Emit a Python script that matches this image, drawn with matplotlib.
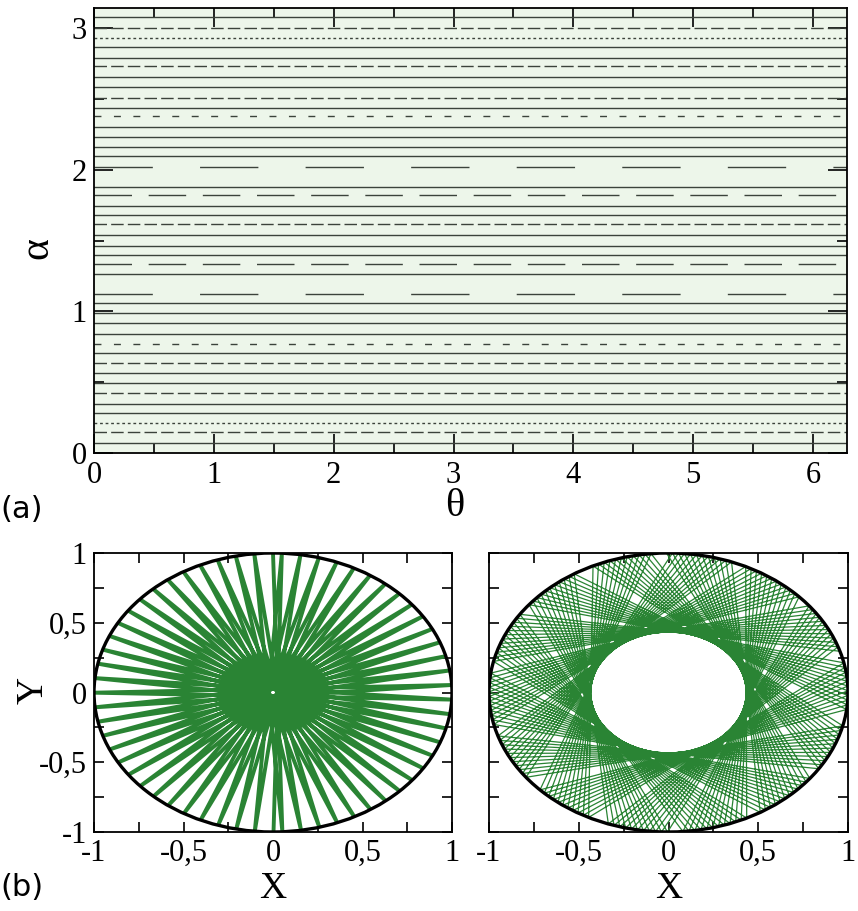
import numpy as np
import matplotlib
matplotlib.use("Agg")
import matplotlib.pyplot as plt
from matplotlib.patches import Circle
from matplotlib.ticker import MultipleLocator, FixedLocator, FixedFormatter

plt.rcParams['lines.scale_dashes'] = False
plt.rcParams['font.family'] = ['Liberation Serif', 'DejaVu Serif']

# (a) phase space: each orbit keeps its alpha, one horizontal trace per orbit
alphas = [3.079, 3.001, 2.931, 2.864, 2.789, 2.730, 2.655, 2.584, 2.506, 2.436,
          2.376, 2.298, 2.228, 2.160, 2.096, 2.018, 1.881, 1.818, 1.747, 1.681,
          1.615, 1.540, 1.464, 1.400, 1.334, 1.264, 1.124, 1.059, 0.986, 0.915,
          0.842, 0.767, 0.703, 0.632, 0.566, 0.495, 0.427, 0.349, 0.283, 0.212,
          0.146, 0.074]
kinds = ['s', 'm', 'd', 's', 's', 'm', 's', 's', 'm', 's',
         'r', 's', 's', 's', 's', 'L', 's', 'M', 's', 's',
         'm', 's', 's', 's', 'M', 's', 'L', 's', 's', 's',
         's', 'r', 's', 'm', 's', 's', 'm', 's', 's', 'd',
         'm', 's']

# (b) two orbits inside the unit circle: incidence angle, start angle, bounces
orbit_alpha = [1.5970, 1.1232]
orbit_theta0 = [np.pi / 2, 0.30]
orbit_bounces = [60, 160]

tick_vals = [-1, -0.5, 0, 0.5, 1]
tick_text = ['-1', '-0,5', '0', '0,5', '1']

line_styles = {
    's': '-',
    'm': (0, (9, 3)),
    'd': (0, (2, 2)),
    'r': (0, (5, 9)),
    'L': (0, (42, 34)),
    'M': (0, (27, 12)),
}

W, H = 858, 911
fig = plt.figure(figsize=(W / 100, H / 100), dpi=100)


def box(l, t, r, b):
    return [l / W, 1 - b / H, (r - l) / W, (b - t) / H]


def style_ticks(ax, major, minor):
    ax.tick_params(which='both', direction='in', top=True, right=True,
                   width=1.2, colors='black')
    ax.tick_params(which='major', length=major, labelsize=22, pad=5)
    ax.tick_params(which='minor', length=minor)
    for sp in ax.spines.values():
        sp.set_linewidth(1.3)


# ---- panel (a)
ax = fig.add_axes(box(94, 8, 847, 453))
ax.set_facecolor('#edf6ea')
for a, k in zip(alphas, kinds):
    ax.plot([0, 2 * np.pi], [a, a], color='#3b433b', lw=1.0, ls=line_styles[k])
ax.set_xlim(0, 2 * np.pi)
ax.set_ylim(0, np.pi)
ax.xaxis.set_major_locator(MultipleLocator(1))
ax.xaxis.set_minor_locator(MultipleLocator(0.5))
ax.yaxis.set_major_locator(MultipleLocator(1))
ax.yaxis.set_minor_locator(MultipleLocator(0.5))
style_ticks(ax, 13.5, 7)
ax.tick_params(axis='x', pad=6)

fig.text(37 / W, 1 - 248 / H, 'α', fontsize=30, rotation=90,
         ha='center', va='center')
fig.text(455 / W, 1 - 507 / H, 'θ', fontsize=29,
         ha='center', va='center')
fig.text(0, 1 - 510 / H, '(a)', family='DejaVu Sans', fontsize=22,
         ha='left', va='center')

# ---- panel (b)
boxes = [box(94, 553, 452, 832), box(489, 553, 848, 832)]
widths = [2.8, 0.9]
for i, bb in enumerate(boxes):
    axb = fig.add_axes(bb)
    th = orbit_theta0[i] + 2 * orbit_alpha[i] * np.arange(orbit_bounces[i] + 1)
    axb.plot(np.cos(th), np.sin(th), color='#2a8434', lw=widths[i],
             solid_joinstyle='miter')
    axb.add_patch(Circle((0, 0), 1, fill=False, ec='black', lw=2.4, zorder=3))
    axb.set_xlim(-1, 1)
    axb.set_ylim(-1, 1)
    axb.xaxis.set_major_locator(FixedLocator(tick_vals))
    axb.xaxis.set_major_formatter(FixedFormatter(tick_text))
    axb.yaxis.set_major_locator(FixedLocator(tick_vals))
    axb.yaxis.set_major_formatter(FixedFormatter(tick_text))
    axb.xaxis.set_minor_locator(MultipleLocator(0.25))
    axb.yaxis.set_minor_locator(MultipleLocator(0.25))
    style_ticks(axb, 7, 7)
    if i == 1:
        axb.tick_params(labelleft=False)
    fig.text((bb[0] + bb[2] / 2), 1 - 889 / H, 'X', fontsize=27,
             ha='center', va='center')

fig.text(33 / W, 1 - 690 / H, 'Y', fontsize=27, rotation=90,
         ha='center', va='center')
fig.text(0, 1 - 888 / H, '(b)', family='DejaVu Sans', fontsize=22,
         ha='left', va='center')

fig.savefig('out.png', dpi=100)
